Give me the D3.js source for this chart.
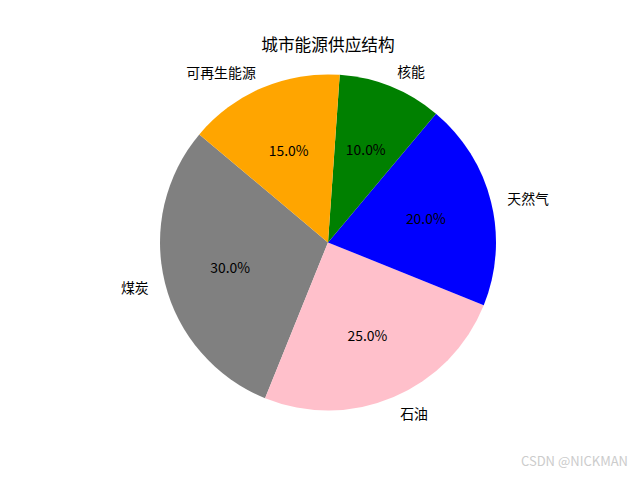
<!DOCTYPE html>
<html>
<head>
<meta charset="utf-8">
<script src="https://cdn.jsdelivr.net/npm/d3@7"></script>
<style>
  body { margin: 0; background: #fff; }
  svg { display: block; font-family: "Noto Sans CJK SC", sans-serif; }
</style>
</head>
<body>
<svg id="chart" width="640" height="480"></svg>
<script>
// 데이터
const categories = ["煤炭", "石油", "天然气", "核能", "可再生能源"];
const shares = [30, 25, 20, 10, 15];
const colors = ["gray", "pink", "blue", "green", "orange"];
const title = "城市能源供应结构";

const width = 640, height = 480;
const cx = 328, cy = 242.4, radius = 168;
const startDeg = 140; // matplotlib startangle, counterclockwise

const svg = d3.select("#chart");

svg.append("text")
    .attr("x", cx)
    .attr("y", 44)
    .attr("text-anchor", "middle")
    .attr("dominant-baseline", "central")
    .attr("font-size", 16.7)
    .text(title);

const g = svg.append("g").attr("transform", `translate(${cx}, ${cy})`);

// d3 angles are clockwise from 12 o'clock -> go negative for counterclockwise
const a0 = (90 - startDeg) * Math.PI / 180;
const pie = d3.pie().sort(null).value(d => d.value)
    .startAngle(a0).endAngle(a0 - 2 * Math.PI);

const color = d3.scaleOrdinal().domain(categories).range(colors);
const arc = d3.arc().innerRadius(0).outerRadius(radius);
const labelArc = d3.arc().innerRadius(radius * 1.1).outerRadius(radius * 1.1);
const pctArc = d3.arc().innerRadius(radius * 0.6).outerRadius(radius * 0.6);

const arcs = pie(categories.map((c, i) => ({ key: c, value: shares[i] })));
const total = d3.sum(shares);

g.selectAll("path")
    .data(arcs)
    .join("path")
    .attr("fill", d => color(d.data.key))
    .attr("d", arc);

// outer labels
g.selectAll("text.label")
    .data(arcs)
    .join("text")
    .attr("class", "label")
    .attr("transform", d => `translate(${labelArc.centroid(d)})`)
    .attr("text-anchor", d => labelArc.centroid(d)[0] >= 0 ? "start" : "end")
    .attr("dominant-baseline", "central")
    .attr("font-size", 13.9)
    .text(d => d.data.key);

// percentages
g.selectAll("text.pct")
    .data(arcs)
    .join("text")
    .attr("class", "pct")
    .attr("transform", d => `translate(${pctArc.centroid(d)})`)
    .attr("text-anchor", "middle")
    .attr("dominant-baseline", "central")
    .attr("font-size", 13.9)
    .text(d => `${(d.data.value / total * 100).toFixed(1)}%`);

// watermark
svg.append("text")
    .attr("x", 628)
    .attr("y", 466)
    .attr("text-anchor", "end")
    .attr("font-size", 13)
    .attr("fill", "#cccccc")
    .text("CSDN @NICKMAN");
</script>
</body>
</html>
